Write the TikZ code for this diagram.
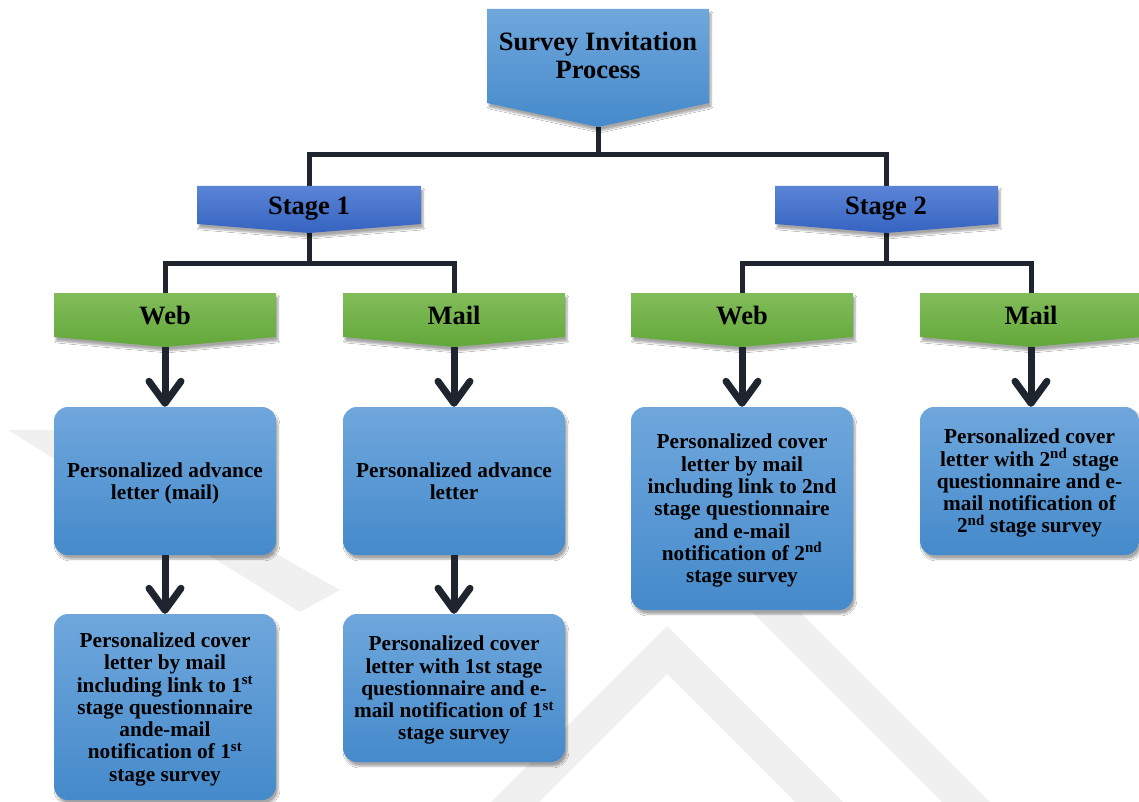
\documentclass[tikz,border=0pt]{standalone}
\usepackage{fontspec}
\setmainfont{Liberation Serif}
\usetikzlibrary{arrows.meta,shadows.blur}
\definecolor{bluetop}{HTML}{6FA7DC}
\definecolor{bluebot}{HTML}{458ACB}
\definecolor{stagetop}{HTML}{5A84D6}
\definecolor{stagebot}{HTML}{3563C0}
\definecolor{greentop}{HTML}{82BC5A}
\definecolor{greenbot}{HTML}{62A83A}
\definecolor{conn}{HTML}{1E252E}
\definecolor{wm}{HTML}{F0F0F0}
\begin{document}
\begin{tikzpicture}[x=1pt,y=-1pt,
  shad/.style={blur shadow={shadow xshift=2pt,shadow yshift=-4pt,shadow blur steps=6,shadow opacity=35}},
  bluebox/.style={rounded corners=14pt, top color=bluetop, bottom color=bluebot, shad,
    minimum width=222pt, inner sep=0pt, align=center, text depth=0pt,
    font=\bfseries\fontsize{21.3}{22.3}\selectfont},
  hdr/.style={inner sep=0pt, align=center, text depth=0pt, font=\bfseries\fontsize{26.5}{28}\selectfont},
  titleshape/.style={top color=bluetop, bottom color=bluebot, shad},
  stageshape/.style={top color=stagetop, bottom color=stagebot, shad},
  greenshape/.style={top color=greentop, bottom color=greenbot, shad},
  tree/.style={draw=conn, line width=5pt},
  flow/.style={draw=conn, line width=7pt, -{Straight Barb[length=22pt,width=32pt,round]}}
]
\useasboundingbox (0,0) rectangle (1139,802);
\fill[white] (0,0) rectangle (1139,802);

% faint watermark
\fill[wm] (491,802) -- (667,626) -- (843,802) -- (795,802) -- (667,674) -- (539,802) -- cycle;
\fill[wm] (752,612) -- (800,612) -- (990,802) -- (942,802) -- cycle;
\fill[wm] (8,430) -- (58,430) -- (340,590) -- (300,612) -- cycle;

% coordinates
\coordinate (ttip) at (598,127);
\coordinate (bar0) at (598,155);
\coordinate (s1top) at (309,186);
\coordinate (s2top) at (886,186);
\coordinate (s1tip) at (309,233);
\coordinate (s2tip) at (886,233);
\coordinate (bar1) at (309,263);
\coordinate (bar2) at (886,263);
\coordinate (g1top) at (165,293);
\coordinate (g2top) at (454,293);
\coordinate (g3top) at (742,293);
\coordinate (g4top) at (1031,293);
\coordinate (g1tip) at (165,347);
\coordinate (g2tip) at (454,347);
\coordinate (g3tip) at (742,347);
\coordinate (g4tip) at (1031,347);

% tree connectors
\draw[tree] (ttip) -- (bar0) -| (s1top);
\draw[tree] (bar0) -| (s2top);
\draw[tree] (s1tip) -- (bar1) -| (g1top);
\draw[tree] (bar1) -| (g2top);
\draw[tree] (s2tip) -- (bar2) -| (g3top);
\draw[tree] (bar2) -| (g4top);

% header shapes
\path[titleshape] (487,9) -- (709,9) -- (709,103) -- (ttip) -- (487,103) -- cycle;
\path[stageshape] (197,186) -- (421,186) -- (421,224) -- (s1tip) -- (197,224) -- cycle;
\path[stageshape] (775,186) -- (998,186) -- (998,224) -- (s2tip) -- (775,224) -- cycle;
\path[greenshape] (54,293) -- (276,293) -- (276,337) -- (g1tip) -- (54,337) -- cycle;
\path[greenshape] (343,293) -- (565,293) -- (565,337) -- (g2tip) -- (343,337) -- cycle;
\path[greenshape] (631,293) -- (853,293) -- (853,337) -- (g3tip) -- (631,337) -- cycle;
\path[greenshape] (920,293) -- (1142,293) -- (1142,337) -- (g4tip) -- (920,337) -- cycle;

\node[hdr] (title) at (598,55) {Survey Invitation\\Process};
\node[hdr] (stage1) at (309,206) {Stage 1};
\node[hdr] (stage2) at (886,206) {Stage 2};
\node[hdr] (web1) at (165,315) {Web};
\node[hdr] (mail1) at (454,315) {Mail};
\node[hdr] (web2) at (742,315) {Web};
\node[hdr] (mail2) at (1031,315) {Mail};

% boxes
\node[bluebox, minimum height=148pt] (w1a) at (165,481) {Personalized advance\\letter (mail)};
\node[bluebox, minimum height=148pt] (m1a) at (454,481) {Personalized advance\\letter};
\node[bluebox, minimum height=203pt] (w2a) at (742,508.5) {Personalized cover\\letter by mail\\including link to 2nd\\stage questionnaire\\and e-mail\\notification of 2\textsuperscript{nd}\\stage survey};
\node[bluebox, minimum width=219pt, minimum height=148pt] (m2a) at (1029.5,481) {Personalized cover\\letter with 2\textsuperscript{nd} stage\\questionnaire and e-\\mail notification of\\2\textsuperscript{nd} stage survey};
\node[bluebox, minimum height=186pt] (w1b) at (165,707) {Personalized cover\\letter by mail\\including link to 1\textsuperscript{st}\\stage questionnaire\\ande-mail\\notification of 1\textsuperscript{st}\\stage survey};
\node[bluebox, minimum height=148pt] (m1b) at (454,688) {Personalized cover\\letter with 1st stage\\questionnaire and e-\\mail notification of 1\textsuperscript{st}\\stage survey};

% arrows
\draw[flow] (g1tip) -- (w1a.north);
\draw[flow] (g2tip) -- (m1a.north);
\draw[flow] (g3tip) -- (w2a.north);
\draw[flow] (g4tip) -- (m2a.north -| g4tip);
\draw[flow] (w1a.south) -- (w1b.north);
\draw[flow] (m1a.south) -- (m1b.north);
\end{tikzpicture}
\end{document}
